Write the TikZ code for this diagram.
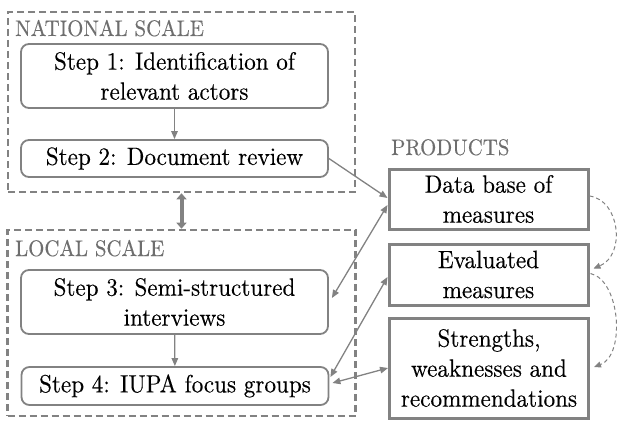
\documentclass[tikz,border=0pt]{standalone}
\usepackage{fontspec}
\setmainfont{lmroman10-regular}[Extension=.otf, FakeStretch=0.925, FakeBold=0.3]
\usetikzlibrary{arrows.meta}
\definecolor{linegray}{HTML}{828282}
\definecolor{labelgray}{HTML}{6E6E6E}
\tikzset{
  stepbox/.style={draw=linegray, line width=1.8pt, rounded corners=8pt, inner sep=0pt,
    minimum width=307pt, align=center, font=\fontsize{25}{30}\selectfont, text=black},
  prodbox/.style={draw=linegray, line width=3pt, inner sep=0pt,
    minimum width=199pt, align=center, font=\fontsize{25}{30}\selectfont, text=black},
  scalebox/.style={draw=linegray, line width=2.6pt, dash pattern=on 7pt off 4pt, inner sep=0pt},
  grouplabel/.style={anchor=base west, inner sep=0pt, text=labelgray, font=\fontsize{22.5}{27}\selectfont},
  flow/.style={draw=linegray, line width=1.3pt, -{Triangle[length=8pt,width=6.5pt]}},
  flowboth/.style={draw=linegray, line width=1.3pt, {Triangle[length=8pt,width=6.5pt]}-{Triangle[length=8pt,width=6.5pt]}},
  thickboth/.style={draw=linegray, line width=4pt, {Triangle[length=6pt,width=10pt]}-{Triangle[length=6pt,width=10pt]}},
  seq/.style={draw=linegray, line width=1pt, dash pattern=on 4pt off 3pt, -{Triangle[length=7pt,width=6pt]}}
}
\begin{document}
\begin{tikzpicture}[x=1pt,y=-1pt]
\useasboundingbox (0,0) rectangle (617,420);
\node[scalebox, minimum width=347pt, minimum height=180pt] (nat) at (181.5,102) {};
\node[scalebox, minimum width=348pt, minimum height=186pt] (loc) at (181.5,323) {};
\node[grouplabel] (natlab) at (15,36) {NATIONAL SCALE};
\node[grouplabel] (loclab) at (15,256) {LOCAL SCALE};
\node[grouplabel] (prodlab) at (391,155) {PRODUCTS};
\node[stepbox, minimum height=64pt] (s1) at (174.5,76) {Step 1: Identification of\\relevant actors};
\node[stepbox, minimum height=37pt] (s2) at (174.5,158.5) {Step 2: Document review};
\node[stepbox, minimum height=64pt] (s3) at (174.5,302) {Step 3: Semi-structured\\interviews};
\node[stepbox, minimum height=38pt] (s4) at (175,386) {Step 4: IUPA focus groups};
\node[prodbox, minimum height=60pt] (db) at (488.5,199) {Data base of\\measures};
\node[prodbox, minimum height=61pt] (ev) at (488.5,274.5) {Evaluated\\measures};
\node[prodbox, minimum height=100pt] (st) at (489,368) {Strengths,\\weaknesses and\\recommendations};
\draw[flow] (s1) -- (s2);
\draw[flow] (s3) -- (s4);
\draw[thickboth] (nat.south) -- (loc.north);
\draw[flow] (s2.east) -- ([yshift=1pt]db.west);
\draw[flowboth] ([xshift=3pt,yshift=4pt]s3.east) -- ([yshift=-6pt]db.west);
\draw[flowboth] ([xshift=1pt,yshift=9pt]s4.east) -- ([yshift=-2.5pt]ev.west);
\draw[flowboth] ([xshift=3pt,yshift=3pt]s4.east) -- (st.west);
\coordinate (c1) at ([yshift=3pt]db.east);
\coordinate (c2) at ([xshift=4pt,yshift=6pt]ev.east);
\coordinate (c3) at ([xshift=1pt,yshift=1pt]ev.east);
\coordinate (c4) at ([xshift=4pt,yshift=1pt]st.east);
\draw[seq] (c1) .. controls (620,200) and (626,255) .. (c2);
\draw[seq] (c3) .. controls (620,280) and (626,355) .. (c4);
\end{tikzpicture}
\end{document}
